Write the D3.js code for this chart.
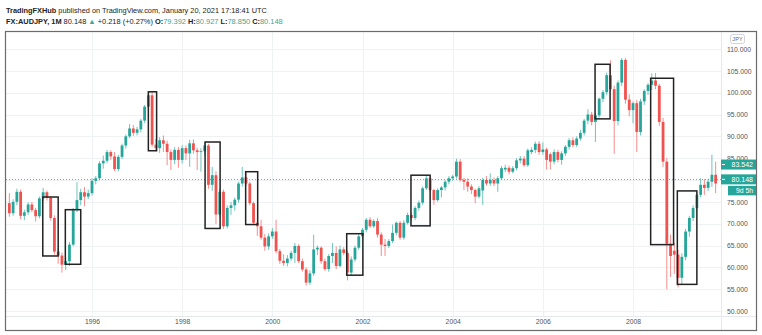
<!DOCTYPE html>
<html><head><meta charset="utf-8">
<script src="https://cdn.jsdelivr.net/npm/d3@7"></script>
<style>
html,body{margin:0;padding:0;background:#fff;}
svg{display:block;font-family:"Liberation Sans",Arial,sans-serif;}
</style>
</head><body>
<svg id="c" width="762" height="335"></svg>
<script>
// ---------- DATA ----------
// monthly bars, March 1994 .. November 2009
const months = d3.timeMonth.range(new Date(1994, 2, 1), new Date(2009, 11, 1));
const open = [74.7,72.4,75.0,77.3,71.8,72.6,74.4,73.1,71.7,75.8,
77.2,75.9,71.3,63.6,62.7,60.6,61.4,65.2,73.1,75.4,77.2,76.2,
77.0,79.8,80.4,83.8,84.4,86.4,85.4,82.5,85.3,87.9,90.0,91.8,
90.8,91.6,93.6,96.8,99.4,88.1,87.3,89.1,88.3,86.4,84.6,86.9,
84.6,87.3,86.1,88.4,86.8,86.4,86.6,87.9,78.9,81.1,72.1,77.3,
69.4,73.6,74.2,75.5,79.2,80.6,79.2,74.7,70.2,69.4,66.8,64.8,
67.1,68.2,63.7,61.5,61.0,62.0,63.3,64.9,61.4,59.5,56.5,58.6,
64.1,64.5,61.4,59.6,62.6,63.3,60.3,64.1,63.3,58.8,61.8,64.5,
67.1,68.6,70.9,69.4,70.6,67.5,65.2,64.9,66.0,67.9,70.2,66.8,
70.2,72.0,71.3,73.6,74.8,78.1,80.4,77.7,75.4,77.7,78.3,79.6,
80.4,80.8,84.2,80.0,79.6,78.5,77.7,76.2,77.6,80.0,79.2,80.0,
79.2,80.4,82.4,82.8,81.9,82.7,84.5,84.9,83.4,86.4,86.9,88.3,
86.4,87.0,85.9,84.2,86.4,84.6,86.1,87.6,89.1,88.0,89.5,90.8,
93.6,95.0,93.3,94.8,98.6,100.1,104.0,100.8,93.5,102.3,107.5,98.4,
96.0,97.6,91.0,98.0,100.4,101.8,102.8,101.6,93.3,84.2,65.4,63.8,
62.9,57.6,62.4,68.2,71.3,73.6,76.6,78.9,78.2,79.6,81.2];
const high = [77.0,75.6,78.0,77.8,73.2,74.9,75.0,73.6,76.2,78.2,
77.6,76.3,71.9,64.4,63.4,62.2,65.8,73.6,79.5,78.0,78.4,77.8,
80.4,80.9,84.3,85.6,86.9,86.8,86.4,85.8,88.3,90.4,92.8,92.6,
92.2,94.0,97.2,100.0,100.2,89.4,89.8,90.2,89.0,87.0,87.5,87.6,
88.0,87.9,89.2,89.3,87.4,87.3,88.6,88.3,83.0,82.0,78.0,77.8,
74.2,75.0,76.0,79.6,83.0,81.9,79.6,75.0,70.6,70.9,67.6,67.8,
69.0,70.9,64.2,63.0,62.8,63.8,65.6,65.3,62.0,60.0,59.3,67.5,
65.0,64.8,62.0,63.0,65.6,64.8,65.0,64.6,63.8,62.5,65.0,67.6,
69.0,71.3,71.5,71.0,71.3,68.0,66.5,66.5,69.8,70.5,70.6,70.8,
72.5,72.6,74.0,75.3,78.5,81.1,80.8,78.0,78.1,78.6,80.0,80.9,
81.2,84.9,84.8,80.5,80.4,79.0,78.0,78.6,80.5,80.9,81.5,80.6,
80.9,83.2,83.5,83.3,83.2,85.0,85.5,85.5,87.2,87.5,88.8,88.9,
88.6,87.4,86.3,87.0,86.9,86.6,88.0,89.6,89.8,90.0,91.5,94.0,
96.2,95.6,95.4,98.9,100.6,104.6,107.4,101.6,102.8,107.9,107.9,99.6,
98.0,98.3,98.6,100.8,102.2,104.4,104.5,102.0,94.2,85.0,67.5,65.6,
64.0,63.2,68.8,71.8,74.2,77.2,80.4,80.2,80.3,85.8,84.2];
const low = [71.6,71.8,74.2,71.0,70.8,72.0,72.6,70.5,71.2,75.2,
75.3,70.7,62.9,60.8,58.8,59.4,60.3,64.8,72.6,74.2,74.0,75.6,
76.4,79.0,79.9,82.6,83.9,84.6,82.0,82.0,84.8,87.2,89.6,90.1,
90.2,90.9,93.0,96.0,87.6,86.6,86.2,86.4,83.4,82.3,83.6,82.8,
83.8,84.6,83.0,86.0,82.3,81.9,85.6,78.0,77.5,69.9,71.5,68.8,
68.9,72.0,73.0,74.8,78.5,78.7,74.2,69.8,67.2,66.3,63.8,64.0,
66.5,63.2,60.8,60.3,60.2,61.5,61.0,61.0,59.0,55.8,56.0,58.0,
62.8,60.8,59.2,59.0,61.0,59.6,60.0,62.8,57.0,58.0,61.3,64.0,
66.5,68.0,69.0,69.0,66.8,62.6,62.6,64.4,65.6,67.3,66.3,66.3,
69.8,70.5,70.8,73.0,74.3,77.7,77.2,74.3,75.0,76.0,77.6,79.0,
79.8,80.3,79.6,77.7,77.3,76.8,74.7,75.8,74.3,78.7,78.7,78.6,
77.3,80.0,81.8,81.3,81.5,82.2,83.8,83.0,83.0,85.9,86.2,85.8,
85.8,82.4,82.4,83.6,84.0,83.5,85.5,87.0,87.5,87.6,89.0,90.2,
92.8,92.5,88.7,94.3,97.8,99.5,100.2,86.0,92.5,101.5,97.5,94.6,
93.0,86.4,90.2,97.2,99.5,100.6,100.8,92.4,83.0,55.0,57.8,58.5,
55.4,56.0,61.6,67.0,70.6,73.0,76.0,76.6,77.5,78.4,77.0];
const close = [72.4,75.0,77.3,71.8,72.6,74.4,73.1,71.7,75.8,77.2,
75.9,71.3,63.6,62.7,60.6,61.4,65.2,73.1,75.4,77.2,76.2,77.0,
79.8,80.4,83.8,84.4,86.4,85.4,82.5,85.3,87.9,90.0,91.8,90.8,
91.6,93.6,96.8,99.4,88.1,87.3,89.1,88.3,86.4,84.6,86.9,84.6,
87.3,86.1,88.4,86.8,86.4,86.6,87.9,78.9,81.1,72.1,77.3,69.4,
73.6,74.2,75.5,79.2,80.6,79.2,74.7,70.2,69.4,66.8,64.8,67.1,
68.2,63.7,61.5,61.0,62.0,63.3,64.9,61.4,59.5,56.5,58.6,64.1,
64.5,61.4,59.6,62.6,63.3,60.3,64.1,63.3,58.8,61.8,64.5,67.1,
68.6,70.9,69.4,70.6,67.5,65.2,64.9,66.0,67.9,70.2,66.8,70.2,
72.0,71.3,73.6,74.8,78.1,80.4,77.7,75.4,77.7,78.3,79.6,80.4,
80.8,84.2,80.0,79.6,78.5,77.7,76.2,78.1,80.0,79.2,80.0,79.2,
80.4,82.7,82.8,81.9,82.7,84.5,84.9,83.4,86.8,86.9,88.3,86.4,
87.0,84.6,84.2,86.4,84.6,86.1,87.6,89.1,88.0,89.5,90.8,93.6,
95.0,93.3,94.8,98.6,100.1,104.0,100.8,93.5,102.3,107.5,98.4,96.0,
97.6,91.0,98.0,100.4,101.8,102.8,101.6,93.3,84.2,65.4,62.6,62.9,
57.6,62.4,68.2,71.3,73.6,76.6,78.9,78.2,79.6,81.2,79.2];

// annotation boxes (months since Jan 1996, price top, price bottom)
const boxFrom   = [-13.1, -7.1, 15.0, 30.1, 40.9, 67.8, 84.9, 133.9, 148.7, 155.8];
const boxTo     = [ -9.0, -3.0, 17.2, 34.1, 44.1, 72.1, 90.0, 137.9, 154.8, 161.0];
const boxTop    = [76.1, 73.2, 100.2, 88.7, 81.9, 67.7, 81.1, 106.5, 103.3, 77.5];
const boxBottom = [62.6, 60.7, 86.7, 68.9, 69.8, 58.2, 69.5, 94.0, 65.2, 56.1];

const yearTicks  = [0, 24, 48, 72, 96, 120, 144];
const yearLabels = ["1996","1998","2000","2002","2004","2006","2008"];
const priceTicks = [50,55,60,65,70,75,80,85,90,95,100,105,110];
const lastPrice = 80.148, markPrice = 83.542, countdown = "9d 5h";

// ---------- LAYOUT ----------
const svg = d3.select("#c");
const P = {l: 6, r: 721, t: 32, b: 316};
const up = "#26a69a", down = "#ef5350";
const x = d3.scaleLinear().domain([0, 144]).range([92, 633]);
const y = d3.scaleLinear().domain([50, 110]).range([311, 49]);
const base = new Date(1996, 0, 1);
const bars = months.map((m, i) => ({k: d3.timeMonth.count(base, m), o: open[i], h: high[i], l: low[i], c: close[i]}));

svg.append("rect").attr("width", 762).attr("height", 335).attr("fill", "#fff");

svg.append("clipPath").attr("id", "clip").append("rect")
  .attr("x", P.l).attr("y", P.t).attr("width", P.r - P.l).attr("height", P.b - P.t);

// grid
const grid = svg.append("g").attr("clip-path", "url(#clip)");
grid.selectAll("line.h").data(priceTicks).join("line")
  .attr("x1", P.l).attr("x2", P.r).attr("y1", d => Math.round(y(d)) + 0.5).attr("y2", d => Math.round(y(d)) + 0.5)
  .attr("stroke", "#eff1f4").attr("stroke-width", 1);
grid.selectAll("line.v").data(yearTicks).join("line")
  .attr("y1", P.t).attr("y2", P.b).attr("x1", d => Math.round(x(d)) + 0.5).attr("x2", d => Math.round(x(d)) + 0.5)
  .attr("stroke", "#eff1f4").attr("stroke-width", 1);

// last price dotted line
const ly = Math.round(y(lastPrice)) + 0.5;
grid.append("line").attr("x1", P.l).attr("x2", P.r)
  .attr("y1", ly).attr("y2", ly)
  .attr("stroke", "#f07a78").attr("stroke-width", 1).attr("stroke-dasharray", "1,2");

// candles
const cg = svg.append("g").attr("clip-path", "url(#clip)");
const bw = 2.8;
cg.selectAll("line.w").data(bars).join("line")
  .attr("x1", d => x(d.k)).attr("x2", d => x(d.k))
  .attr("y1", d => y(d.h)).attr("y2", d => y(d.l))
  .attr("stroke", d => d.c >= d.o ? up : down).attr("stroke-width", 1).attr("opacity", 0.65);
cg.selectAll("rect.b").data(bars).join("rect")
  .attr("x", d => x(d.k) - bw / 2).attr("width", bw)
  .attr("y", d => y(Math.max(d.o, d.c)))
  .attr("height", d => Math.max(0.8, Math.abs(y(d.o) - y(d.c))))
  .attr("fill", d => d.c >= d.o ? up : down);

// annotation boxes
const boxes = boxFrom.map((f, i) => ({f, t: boxTo[i], top: boxTop[i], bot: boxBottom[i]}));
cg.selectAll("rect.box").data(boxes).join("rect")
  .attr("x", d => x(d.f)).attr("width", d => x(d.t) - x(d.f))
  .attr("y", d => y(d.top)).attr("height", d => y(d.bot) - y(d.top))
  .attr("fill", "none").attr("stroke", "#222").attr("stroke-width", 1.5);

// separators
svg.append("line").attr("x1", P.r + 0.5).attr("x2", P.r + 0.5).attr("y1", P.t).attr("y2", 330)
  .attr("stroke", "#e6e8ec");
svg.append("line").attr("x1", P.l).attr("x2", 756).attr("y1", P.b + 0.5).attr("y2", P.b + 0.5)
  .attr("stroke", "#e6e8ec");

// price axis (the tick label hidden under the last-price tag is skipped, as on the source)
const shownTicks = priceTicks.filter(v => Math.abs(y(v) - y(lastPrice)) > 6);
const ya = svg.append("g").attr("transform", `translate(${P.r},0)`)
  .call(d3.axisRight(y).tickValues(shownTicks).tickFormat(d3.format(".3f")).tickSize(0).tickPadding(6));
ya.select(".domain").remove();
ya.selectAll("text").attr("font-size", 6.8).attr("fill", "#555").attr("font-family", "Liberation Sans, Arial, sans-serif");

// time axis
const xa = svg.append("g").attr("transform", `translate(0,${P.b})`)
  .call(d3.axisBottom(x).tickValues(yearTicks).tickFormat((d, i) => yearLabels[i]).tickSize(0).tickPadding(3));
xa.select(".domain").remove();
xa.selectAll("text").attr("font-size", 6.8).attr("fill", "#555").attr("font-family", "Liberation Sans, Arial, sans-serif");

// JPY label
svg.append("rect").attr("x", 730.5).attr("y", 34.5).attr("width", 14).attr("height", 9).attr("rx", 2)
  .attr("fill", "#fff").attr("stroke", "#d0d3d8");
svg.append("text").attr("x", 737.5).attr("y", 41.3).attr("text-anchor", "middle")
  .attr("font-size", 5.6).attr("fill", "#666").text("JPY");

// price labels
function priceTag(val, txt, x0, w, withDash) {
  const yc = y(val);
  svg.append("rect").attr("x", x0).attr("y", yc - 5).attr("width", w).attr("height", 10).attr("fill", up);
  if (withDash) svg.append("line").attr("x1", x0 + 1).attr("x2", x0 + 4).attr("y1", yc).attr("y2", yc).attr("stroke", "#fff");
  svg.append("text").attr("x", x0 + w - 3).attr("y", yc + 2.5).attr("text-anchor", "end")
    .attr("font-size", 7).attr("fill", "#fff").text(txt);
}
priceTag(markPrice, d3.format(".3f")(markPrice), 721, 35, true);
priceTag(lastPrice, d3.format(".3f")(lastPrice), 721, 35, true);
svg.append("rect").attr("x", 728).attr("y", y(lastPrice) + 6.5).attr("width", 28).attr("height", 9.5).attr("fill", up);
svg.append("text").attr("x", 753).attr("y", y(lastPrice) + 13.7).attr("text-anchor", "end")
  .attr("font-size", 6.8).attr("fill", "#fff").text(countdown);

// frame
svg.append("rect").attr("x", 5.5).attr("y", 31.5).attr("width", 751).attr("height", 299)
  .attr("fill", "none").attr("stroke", "#6b6b6b").attr("stroke-width", 1.2);

// header
function fit(sel, w) {
  const n = sel.node(); const cur = n.getComputedTextLength();
  const fs = parseFloat(sel.attr("font-size"));
  sel.attr("font-size", fs * w / cur);
}
const h1 = svg.append("text").attr("x", 6).attr("y", 13).attr("font-size", 8).attr("fill", "#222");
h1.append("tspan").attr("font-weight", "bold").text("TradingFXHub");
h1.append("tspan").text(" published on TradingView.com, January 20, 2021 17:18:41 UTC");
fit(h1, 261);

const h2 = svg.append("text").attr("x", 6).attr("y", 24).attr("font-size", 8).attr("fill", "#222");
const teal = "#3aa796";
h2.append("tspan").attr("font-weight", "bold").text("FX:AUDJPY, 1M");
h2.append("tspan").text(" 80.148 ");
h2.append("tspan").attr("fill", teal).text("▲");
h2.append("tspan").text(" +0.218 (+0.27%) ");
[["O:","79.392"],["H:","80.927"],["L:","78.850"],["C:","80.148"]].forEach(([a,b], i) => {
  h2.append("tspan").attr("font-weight", "bold").text((i ? " " : "") + a);
  h2.append("tspan").attr("fill", teal).text(b);
});
fit(h2, 277);
</script>
</body></html>
